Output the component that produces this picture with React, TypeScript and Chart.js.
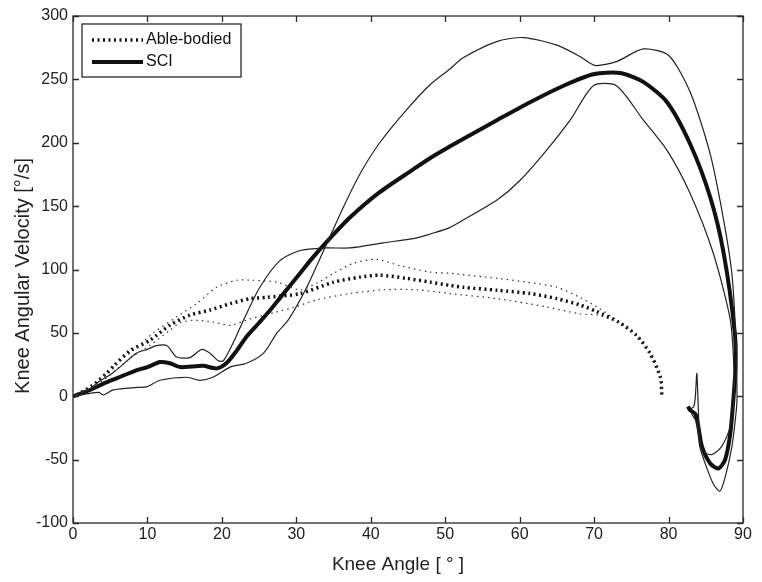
import { useEffect, useRef } from 'react';
import { Chart, registerables } from 'chart.js';

Chart.register(...registerables);

const FONT = "'Liberation Sans', Arial, Helvetica, sans-serif";

// Axis ranges / ticks
const xRange = [0, 90];
const xStep = 10;
const yRange = [-100, 300];
const yStep = 50;

const legendLabels = ['Able-bodied', 'SCI'];
const xTitle = 'Knee Angle [ ° ]';
const yTitle = 'Knee Angular Velocity [°/s]';

// SCI mean
const sciMeanX = [0, 1, 2.5, 4.1, 6, 8.5, 10, 11.7, 13, 14.4, 16, 17.5, 19.3, 20.6, 22, 23.3, 25, 26.5, 28, 30.5, 32, 34.1, 37.2, 41.2, 45.7, 48, 50.6, 52.4, 57, 61.4, 65.9, 69.9, 73.5, 76.6, 79.8, 82.9, 85.6, 87.4, 88.9, 89, 88.7, 88.3, 87.6, 86.7, 85.6, 84.5, 84, 83.6, 82.9, 82.6];
const sciMeanY = [0, 2, 5.5, 10, 14.5, 20.5, 23, 27, 26, 23, 23.5, 24, 22, 26, 36, 47, 58, 68, 79, 97, 108, 122, 141, 161, 179, 188, 197, 203, 218, 232, 245, 254, 255, 248, 232, 199, 157, 113, 50, 23, -3, -29, -50, -57, -53, -40, -24, -14, -11, -8];

// SCI SD curve (outer at the peak)
const sciSdAX = [0, 2, 3.5, 4.1, 5.4, 8.6, 9.9, 11.7, 15.3, 17, 18.8, 21.1, 23.3, 25.6, 27.4, 28.9, 31.4, 33.9, 36.3, 38.6, 41.2, 44.8, 48, 50.6, 52.4, 57, 60.5, 65, 68.1, 70.1, 73, 76.6, 80, 82.9, 85.6, 87.4, 88.5, 89, 89.2, 89.1, 88.5, 87.6, 86.9, 86, 85.1, 84.2, 83.8, 83.1];
const sciSdAY = [0, 2, 3, 1, 5, 7, 7.4, 12.6, 15, 12.6, 15, 23, 26, 34, 50, 60, 86, 118, 149, 176, 200, 226, 246, 258, 267, 280, 283, 277, 268, 261, 264, 274, 269, 240, 191, 139, 97, 50, 0, -11, -40, -64, -75, -69, -56, -40, -21, -14];

// SCI SD curve (inner at the peak)
const sciSdBX = [0, 2, 3.6, 5, 6.3, 8.5, 10, 11.2, 12.6, 13.9, 15.7, 17.3, 18.4, 19.5, 20.2, 21.5, 22.9, 25.1, 27.8, 30.5, 33.9, 37.2, 41.7, 46.2, 48, 50.6, 52.4, 57, 60, 63.6, 66.8, 69.9, 73, 76.6, 79.8, 82.9, 86, 88.3, 88.8, 88.8, 88.3, 87.1, 85.8, 84.7, 84.2, 84, 83.8, 83.6, 83.4, 83];
const sciSdBY = [0, 5, 12, 17, 23, 34, 37, 40, 40, 31, 30.5, 37, 34, 28, 28, 42, 60, 86, 107, 115, 117, 117, 121, 125, 128, 133, 139, 155, 170, 194, 218, 245, 245, 218, 194, 160, 113, 60, 20, 0, -24, -40, -46, -44, -35, -10, 18, 0, -8, -10];

// Able-bodied mean
const abMeanX = [0.5, 2.5, 4.5, 5.5, 7.7, 10.3, 13, 15.7, 18.4, 21.1, 23.8, 26, 30.5, 35, 38.6, 41.2, 44.8, 48, 50.6, 52.4, 57, 61.4, 65, 68.1, 70.3, 73.3, 75.7, 77.5, 78.9, 79.1];
const abMeanY = [1, 8, 18, 24, 36, 44, 56, 64, 68, 73, 77, 78, 81, 90, 94, 95.5, 93, 90, 87.5, 86, 83.6, 81, 77, 72, 67, 58.5, 48, 34, 15, 0];

// Able-bodied upper SD
const abUpX = [0.5, 3, 5, 6.3, 8.5, 10.8, 13.9, 16.6, 19.3, 22, 24.2, 27.4, 30.5, 33, 35, 37.7, 40.8, 43.9, 48, 50.6, 57, 61, 65, 68.1, 70.5, 73.3, 75.7, 77.5, 78.9, 79.1];
const abUpY = [1, 11, 20, 28, 38, 50, 62.5, 73, 86, 91.5, 91.5, 90, 84, 90, 97, 105, 108, 103, 98, 97, 93, 90, 86, 78, 70, 59, 48, 34, 15, 0];

// Able-bodied lower SD
const abLoX = [0.5, 3, 5, 7.7, 10.3, 13, 14.4, 16.2, 18.8, 21.1, 23.8, 27, 29.6, 32.7, 37.2, 41.7, 46.2, 50.6, 57, 63.6, 68.1, 70.5, 73.3, 75.7, 77.5, 78.9, 79.1];
const abLoY = [1, 8, 17, 30, 40, 52, 58, 60, 58.6, 56, 61, 66, 70, 76, 81, 84, 84, 81, 77, 70.5, 65, 64, 58, 48, 34, 15, 0];

const pts = (xs: number[], ys: number[]) => xs.map((x, i) => ({ x, y: ys[i] }));

const framePlugin = {
  id: 'matlabFrame',
  afterDraw(chart: any) {
    const { ctx, chartArea: a, scales } = chart;
    ctx.save();
    ctx.strokeStyle = '#2a2a2a';
    ctx.lineWidth = 1.3;
    ctx.strokeRect(a.left, a.top, a.right - a.left, a.bottom - a.top);
    const tl = 6;
    ctx.beginPath();
    scales.x.ticks.forEach((t: any) => {
      const px = Math.round(scales.x.getPixelForValue(t.value)) + 0.5;
      ctx.moveTo(px, a.bottom); ctx.lineTo(px, a.bottom - tl);
      ctx.moveTo(px, a.top); ctx.lineTo(px, a.top + tl);
    });
    scales.y.ticks.forEach((t: any) => {
      const py = Math.round(scales.y.getPixelForValue(t.value)) + 0.5;
      ctx.moveTo(a.left, py); ctx.lineTo(a.left + tl, py);
      ctx.moveTo(a.right, py); ctx.lineTo(a.right - tl, py);
    });
    ctx.stroke();

    // legend box
    const lx = a.left + 9, ly = a.top + 8, lw = 159, lh = 53;
    ctx.fillStyle = '#fff';
    ctx.fillRect(lx, ly, lw, lh);
    ctx.strokeStyle = '#2a2a2a';
    ctx.lineWidth = 1.3;
    ctx.strokeRect(lx, ly, lw, lh);
    ctx.strokeStyle = '#111';
    ctx.lineCap = 'butt';
    ctx.lineWidth = 3.5;
    ctx.setLineDash([2, 3.5]);
    ctx.beginPath(); ctx.moveTo(lx + 10, ly + 16); ctx.lineTo(lx + 61, ly + 16); ctx.stroke();
    ctx.setLineDash([]);
    ctx.lineWidth = 4;
    ctx.beginPath(); ctx.moveTo(lx + 10, ly + 38); ctx.lineTo(lx + 61, ly + 38); ctx.stroke();
    ctx.fillStyle = '#111';
    ctx.font = `16px ${FONT}`;
    ctx.textBaseline = 'middle';
    ctx.textAlign = 'left';
    ctx.fillText(legendLabels[0], lx + 64, ly + 16);
    ctx.fillText(legendLabels[1], lx + 64, ly + 38);

    // axis titles
    ctx.fillStyle = '#222';
    ctx.font = `19px ${FONT}`;
    ctx.textAlign = 'center';
    ctx.textBaseline = 'alphabetic';
    ctx.fillText(xTitle, 398, 570);
    ctx.save();
    ctx.translate(29, 276);
    ctx.rotate(-Math.PI / 2);
    ctx.font = `20px ${FONT}`;
    ctx.fillText(yTitle, 0, 0);
    ctx.restore();
    ctx.restore();
  },
};

export default function App() {
  const ref = useRef<HTMLCanvasElement | null>(null);
  useEffect(() => {
    if (!ref.current) return;
    document.body.style.margin = '0';
    const thin = { borderColor: '#222', borderWidth: 1.2, pointRadius: 0, showLine: true, fill: false, tension: 0.25 };
    const chart = new Chart(ref.current, {
      type: 'scatter',
      data: {
        datasets: [
          { ...thin, label: 'Able-bodied +SD', data: pts(abUpX, abUpY), borderDash: [1.5, 4], borderColor: '#333' },
          { ...thin, label: 'Able-bodied -SD', data: pts(abLoX, abLoY), borderDash: [1.5, 4], borderColor: '#333' },
          { ...thin, label: 'SCI SD A', data: pts(sciSdAX, sciSdAY) },
          { ...thin, label: 'SCI SD B', data: pts(sciSdBX, sciSdBY) },
          { ...thin, label: legendLabels[0], data: pts(abMeanX, abMeanY), borderWidth: 3.5, borderDash: [2, 3.5], borderColor: '#111' },
          { ...thin, label: legendLabels[1], data: pts(sciMeanX, sciMeanY), borderWidth: 4, borderColor: '#111' },
        ],
      },
      options: {
        responsive: false,
        animation: false,
        devicePixelRatio: 1,
        layout: { padding: { top: 16, right: 19, left: 0, bottom: 0 } },
        plugins: { legend: { display: false }, tooltip: { enabled: false }, title: { display: false } },
        scales: {
          x: {
            type: 'linear',
            min: xRange[0],
            max: xRange[1],
            grid: { display: false, drawTicks: false, tickLength: 0 },
            border: { display: false },
            ticks: { stepSize: xStep, padding: 2, color: '#222', font: { size: 16, family: FONT } },
            afterFit: (s: any) => { s.height = 59; },
          },
          y: {
            type: 'linear',
            min: yRange[0],
            max: yRange[1],
            grid: { display: false, drawTicks: false, tickLength: 0 },
            border: { display: false },
            ticks: { stepSize: yStep, padding: 5, color: '#222', font: { size: 16, family: FONT } },
            afterFit: (s: any) => { s.width = 73; },
          },
        },
      },
      plugins: [framePlugin],
    });
    return () => chart.destroy();
  }, []);
  return (
    <div style={{ position: 'fixed', left: 0, top: 0, width: 762, height: 582, background: '#fff' }}>
      <canvas ref={ref} width={762} height={582} />
    </div>
  );
}
